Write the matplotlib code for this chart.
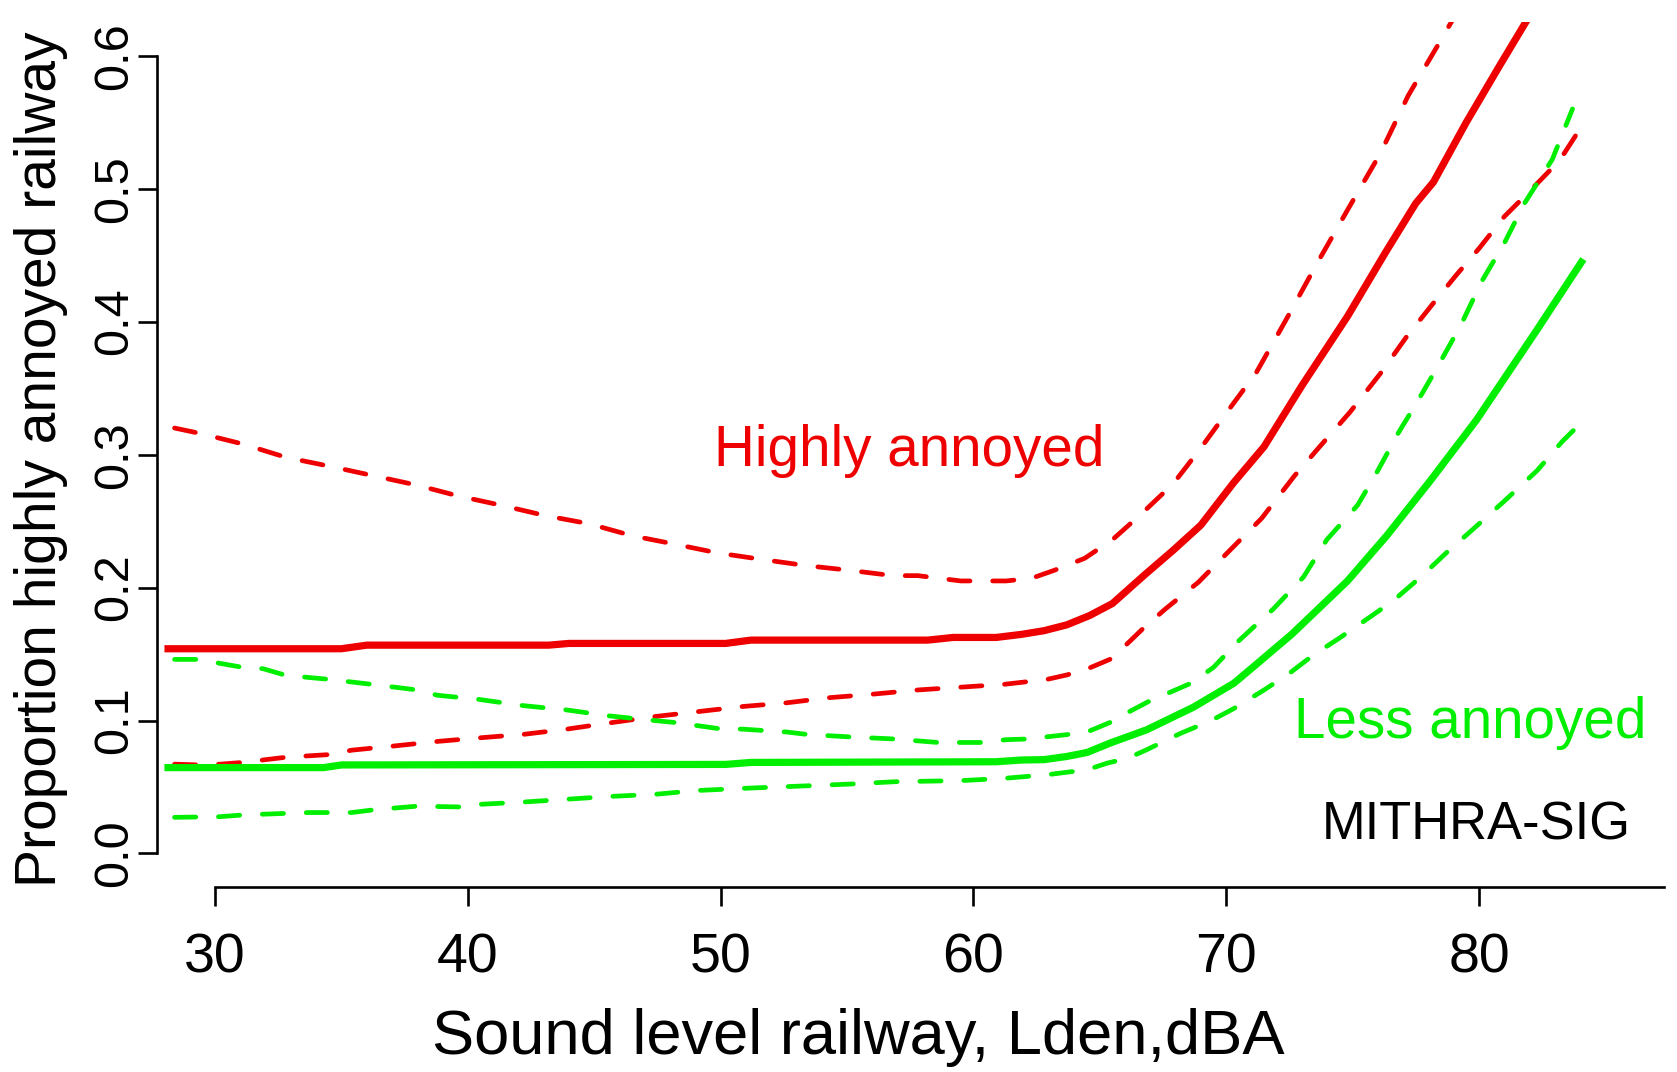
import matplotlib
matplotlib.use("Agg")
import matplotlib.pyplot as plt

plt.rcParams['font.family'] = ['Liberation Sans', 'DejaVu Sans']

# ---- data ----
hi_fit_x = [28.0, 35.0, 36.0, 43.2, 44.0, 50.2, 51.2, 58.2, 59.2, 60.9, 61.9, 62.8, 63.7, 64.6,
            65.5, 66.8, 67.9, 69.0, 70.3, 71.5, 73.0, 74.8, 76.3, 77.5, 78.2, 79.5, 80.8, 82.0, 82.6]
hi_fit_y = [0.154, 0.154, 0.1567, 0.1567, 0.158, 0.158, 0.1605, 0.1605, 0.1625, 0.1625, 0.1648,
            0.1676, 0.172, 0.179, 0.188, 0.210, 0.228, 0.247, 0.279, 0.306, 0.352, 0.404, 0.452,
            0.489, 0.505, 0.550, 0.592, 0.630, 0.650]

hi_up_x = [28.4, 29.4, 31.1, 32.8, 34.6, 36.3, 38.0, 39.6, 41.3, 43.1, 44.8, 46.5, 48.1, 49.9,
           51.7, 53.4, 55.1, 56.8, 57.8, 59.5, 61.3, 62.3, 63.2, 64.4, 65.5, 66.6, 67.9, 69.0,
           70.15, 71.2, 72.4, 73.6, 74.8, 76.1, 77.2, 78.5, 79.2]
hi_up_y = [0.320, 0.316, 0.308, 0.298, 0.291, 0.284, 0.277, 0.269, 0.262, 0.254, 0.248, 0.239,
           0.233, 0.226, 0.221, 0.2165, 0.213, 0.209, 0.209, 0.205, 0.205, 0.207, 0.213, 0.222,
           0.236, 0.2546, 0.278, 0.305, 0.335, 0.362, 0.4025, 0.444, 0.484, 0.5266, 0.570, 0.612,
           0.635]

hi_lo_x = [28.4, 29.4, 30.2, 31.1, 32.8, 34.6, 35.4, 37.1, 38.8, 40.4, 42.2, 43.9, 45.6, 47.4,
           49.1, 50.9, 52.6, 54.3, 56.0, 57.8, 59.5, 61.2, 62.9, 63.7, 64.6, 65.4, 66.1, 66.7,
           67.6, 68.9, 70.3, 71.4, 72.7, 73.7, 74.9, 76.1, 77.15, 78.2, 79.1, 80.0, 81.0, 82.0,
           83.2, 84.2]
hi_lo_y = [0.0672, 0.0666, 0.0672, 0.0685, 0.0724, 0.0745, 0.0777, 0.0809, 0.0843, 0.0869,
           0.0896, 0.0935, 0.0982, 0.1030, 0.1067, 0.1106, 0.1133, 0.1172, 0.1198, 0.123, 0.1251,
           0.1272, 0.1309, 0.1343, 0.1396, 0.146, 0.158, 0.169, 0.184, 0.204, 0.231, 0.252, 0.284,
           0.306, 0.332, 0.361, 0.389, 0.414, 0.435, 0.455, 0.479, 0.498, 0.5215, 0.551]

less_fit_x = [28.0, 34.3, 35.0, 50.2, 51.2, 60.9, 61.9, 62.8, 63.7, 64.5, 65.4, 66.85, 68.7,
              70.3, 71.3, 72.6, 74.8, 76.35, 78.1, 79.9, 82.3, 84.13]
less_fit_y = [0.0646, 0.0646, 0.0666, 0.0670, 0.0685, 0.0690, 0.0703, 0.0706, 0.073, 0.076,
              0.083, 0.093, 0.110, 0.128, 0.144, 0.165, 0.205, 0.239, 0.281, 0.326, 0.394, 0.447]

less_up_x = [28.4, 29.4, 30.2, 31.1, 31.9, 32.8, 34.5, 36.3, 38.0, 38.8, 40.4, 42.2, 43.9, 45.6,
             46.5, 47.4, 48.2, 49.9, 50.9, 52.6, 53.4, 55.1, 56.9, 58.6, 60.3, 61.3, 62.1, 63.7,
             64.6, 65.4, 66.1, 66.9, 68.6, 69.5, 70.5, 71.87, 73.06, 73.98, 75.2, 76.0, 76.8,
             77.6, 78.45, 79.3, 80.1, 81.0, 81.8, 82.9, 83.7]
less_up_y = [0.146, 0.146, 0.143, 0.140, 0.139, 0.134, 0.131, 0.127, 0.123, 0.119, 0.116, 0.1112,
             0.108, 0.1035, 0.1017, 0.100, 0.0985, 0.094, 0.0935, 0.0914, 0.0896, 0.0877, 0.0861,
             0.0835, 0.0835, 0.0856, 0.0861, 0.0894, 0.0922, 0.0985, 0.106, 0.114, 0.128, 0.140,
             0.160, 0.184, 0.208, 0.236, 0.262, 0.288, 0.316, 0.341, 0.369, 0.398, 0.430, 0.459,
             0.489, 0.522, 0.560]

less_lo_x = [28.4, 30.2, 31.1, 33.7, 35.4, 36.3, 38.0, 39.7, 40.4, 42.2, 43.9, 45.6, 47.4, 49.1,
             50.9, 53.4, 55.1, 56.9, 59.5, 61.2, 62.9, 64.5, 65.3, 66.1, 66.85, 68.2, 69.4, 70.3,
             71.5, 72.5, 73.5, 74.4, 75.7, 76.6, 77.7, 78.7, 79.8, 81.0, 82.3, 83.3, 84.1]
less_lo_y = [0.0272, 0.0277, 0.029, 0.0308, 0.0308, 0.0329, 0.0356, 0.035, 0.0369, 0.0387,
             0.0408, 0.0429, 0.0445, 0.0474, 0.0490, 0.0509, 0.0522, 0.054, 0.0548, 0.0565,
             0.0592, 0.063, 0.068, 0.0716, 0.078, 0.0904, 0.0999, 0.109, 0.123, 0.1355, 0.150,
             0.161, 0.178, 0.190, 0.208, 0.226, 0.2445, 0.265, 0.288, 0.310, 0.325]

x_ticks = [30, 40, 50, 60, 70, 80]
x_tick_labels = ["30", "40", "50", "60", "70", "80"]
y_ticks = [0.0, 0.1, 0.2, 0.3, 0.4, 0.5, 0.6]
y_tick_labels = ["0.0", "0.1", "0.2", "0.3", "0.4", "0.5", "0.6"]

RED = "#EE0000"
GREEN = "#00EE00"

W, H = 1677, 1072
fig = plt.figure(figsize=(W / 100, H / 100), dpi=100)
ax = fig.add_axes([157 / W, 1 - 887 / H, (1664 - 157) / W, (887 - 22) / H])
ax.set_xlim(27.706, 87.32)
ax.set_ylim(-0.0252, 0.6254)

solid_kw = dict(lw=5.2, solid_capstyle='butt', solid_joinstyle='round')
dash_kw = dict(lw=3.4, linestyle=(0, (4.5, 4.8)), dash_capstyle='round', dash_joinstyle='round')

ax.plot(hi_up_x, hi_up_y, color=RED, **dash_kw)
ax.plot(hi_lo_x, hi_lo_y, color=RED, **dash_kw)
ax.plot(less_up_x, less_up_y, color=GREEN, **dash_kw)
ax.plot(less_lo_x, less_lo_y, color=GREEN, **dash_kw)
ax.plot(hi_fit_x, hi_fit_y, color=RED, **solid_kw)
ax.plot(less_fit_x, less_fit_y, color=GREEN, **solid_kw)

for s in ['top', 'right']:
    ax.spines[s].set_visible(False)
ax.spines['left'].set_bounds(0.0, 0.6)
ax.spines['bottom'].set_bounds(30, 87.32)
for s in ['left', 'bottom']:
    ax.spines[s].set_linewidth(1.9)

ax.set_xticks(x_ticks)
ax.set_xticklabels(x_tick_labels)
ax.set_yticks(y_ticks)
ax.set_yticklabels(y_tick_labels)
ax.tick_params(axis='x', direction='out', length=13.5, width=1.9, pad=19, labelsize=40)
ax.tick_params(axis='y', direction='out', length=13.5, width=1.9, pad=1, labelsize=35,
               labelrotation=90)
for lab in ax.get_yticklabels():
    lab.set_va('center')

fig.text(858 / W, 1 - 1054 / H, "Sound level railway, Lden,dBA", fontsize=45.5,
         ha='center', va='baseline')
fig.text(41 / W, 1 - 459 / H, "Proportion highly annoyed railway", fontsize=41,
         ha='center', va='center', rotation=90)

ax.text(57.45, 0.2914, "Highly annoyed", color=RED, fontsize=40.8, ha='center', va='baseline')
ax.text(79.66, 0.0869, "Less annoyed", color=GREEN, fontsize=40.8, ha='center', va='baseline')
ax.text(79.88, 0.0105, "MITHRA-SIG", color='black', fontsize=37.8, ha='center', va='baseline')

fig.savefig("out.png", dpi=100)
